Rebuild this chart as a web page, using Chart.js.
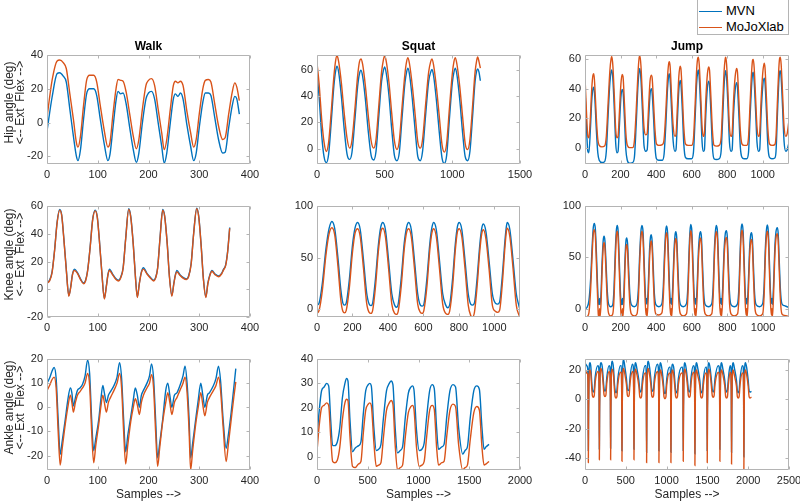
<!DOCTYPE html>
<html>
<head>
<meta charset="utf-8">
<script src="https://cdn.jsdelivr.net/npm/chart.js@4.4.1/dist/chart.umd.min.js"></script>
<style>
    body { margin: 0; background: #fff; }
    #figure { position: relative; width: 800px; height: 501px; overflow: hidden; }
    #figure canvas { position: absolute; }
    #legend { position: absolute; left: 697px; top: -1px; width: 92px; height: 36px; box-sizing: border-box;
        border: 1px solid #b4b4b4; background: #fff; font: 13px "Liberation Sans", Arial, sans-serif; color: #000; }
    #legend .item { position: absolute; left: 1px; height: 14px; line-height: 14px; white-space: nowrap; }
    #legend .swatch { display: inline-block; width: 23px; height: 1.5px; vertical-align: middle; margin-right: 4px; }
</style>
</head>
<body>
<div id="figure">
    <canvas id="walkHip"></canvas>
    <canvas id="squatHip"></canvas>
    <canvas id="jumpHip"></canvas>
    <canvas id="walkKnee"></canvas>
    <canvas id="squatKnee"></canvas>
    <canvas id="jumpKnee"></canvas>
    <canvas id="walkAnkle"></canvas>
    <canvas id="squatAnkle"></canvas>
    <canvas id="jumpAnkle"></canvas>
    <div id="legend">
        <div class="item" style="top:4px"><span class="swatch" style="background:#0072BD"></span>MVN</div>
        <div class="item" style="top:20px"><span class="swatch" style="background:#D95319"></span>MoJoXlab</div>
    </div>
</div>
<script>
// ---- data (sample index, angle in deg) ----
const seriesNames = ['MVN', 'MoJoXlab'];
const columnTitles = ['Walk', 'Squat', 'Jump'];
const rowLabels = ['Hip angle (deg)', 'Knee angle (deg)', 'Ankle angle (deg)'];
const dirLabel = '<-- Ext  Flex -->';
const xLabel = 'Samples -->';

const walkXTicks = [0, 100, 200, 300, 400];
const squatHipXTicks = [0, 500, 1000, 1500];
const squatKneeXTicks = [0, 200, 400, 600, 800, 1000];
const squatAnkleXTicks = [0, 500, 1000, 1500, 2000];
const jumpXTicks = [0, 200, 400, 600, 800, 1000];
const jumpAnkleXTicks = [0, 500, 1000, 1500, 2000, 2500];

const walkHipYTicks = [-20, 0, 20, 40];
const walkKneeYTicks = [-20, 0, 20, 40, 60];
const walkAnkleYTicks = [-20, -10, 0, 10, 20];
const squatHipYTicks = [0, 20, 40, 60];
const squatKneeYTicks = [0, 50, 100];
const squatAnkleYTicks = [0, 10, 20, 30, 40];
const jumpHipYTicks = [0, 20, 40, 60];
const jumpKneeYTicks = [0, 50, 100];
const jumpAnkleYTicks = [-40, -20, 0, 20];

// Walk - hip
const walkHipX = [0,10,20,25,32,38,45,52,58,61,66,72,78,84,92,98,105,113,120,124,
    130,136,140,145,150,156,163,170,176,181,188,195,200,206,212,219,226,231,236,243,
    249,253,258,263,268,276,283,289,294,300,307,312,318,323,330,338,346,351,358,365,370,374,379];
const walkHipMVN = [-5,15,29,29.5,27.5,24,8,-8,-20,-22.5,-16,2,17,20,20,16,2,-13,-22.5,-19,
    -3,13,18.5,17,17.5,11,-3,-16,-23.5,-18,0,14,17.5,18.5,14,0,-14,-24,-18,0,
    14,17,15.5,17.5,14,-2,-14,-22.5,-18,-3,12,17.5,17.5,16,4,-10,-18,-17.5,-3,10,15.5,14,5];
const walkHipMoJo = [3,25,36.5,37,35.5,32,17,2,-12,-14.5,-8,10,25,28,28,24,10,-5,-14.5,-12,
    5,20,25.5,25,24.5,18,5,-8,-15.5,-10,8,22,25,26,22,8,-6,-16,-10,8,
    22,24.5,23.5,24.5,22,6,-6,-14.5,-10,5,20,25,25.5,24,12,-2,-10,-9,5,18,23.5,21,13];

// Walk - knee
const walkKneeX = [0,5,10,15,20,25,29,33,38,43,47,50,54,60,66,72,76,80,85,90,
    95,99,103,108,113,117,120,123,130,136,141,145,150,155,161,165,170,174,178,182,
    186,190,197,204,210,214,218,223,228,232,237,241,246,250,253,256,262,268,275,279,
    284,289,295,299,304,308,313,317,321,325,331,338,344,348,352,356,360];
const walkKneeMVN = [5,6.5,12.5,28.5,48.5,57.5,53.5,37.5,14.5,-4.5,2.5,10.5,14.5,12,7.5,4.5,6.5,13.5,30.5,50.5,
    57,52.5,36.5,12.5,-6.5,2.5,10.5,14.5,10.5,7.5,6.5,8.5,15.5,36.5,58,52.5,32.5,10.5,-5.5,4.5,
    12.5,15.5,11.5,8.5,6.5,8.5,15.5,38.5,57.5,52.5,32.5,10.5,-4.5,4.5,10.5,13.5,10.5,8.5,7.5,9.5,
    18.5,40.5,58.5,52.5,30.5,8.5,-5.5,4.5,10.5,13.5,11,9.5,11.5,14.5,17.5,27.5,44.5];
const walkKneeMoJo = [4.5,6,12,28,48,57,53,37,14,-5,2,10,13.5,11.5,7,4,6,13,30,50,
    56.5,52,36,12,-7,2,10,13.5,10,7,6,8,15,36,57.5,52,32,10,-6,4,
    12,14.5,11,8,6,8,15,38,57,52,32,10,-5,4,10,12.5,10,8,7,9,
    18,40,58,52,30,8,-6,4,10,13,10.5,9,11,14,17,27,44];

// Walk - ankle
const walkAnkleX = [0,5,10,14,18,22,26,30,36,41,46,49,52,56,60,65,70,75,80,84,
    88,92,96,102,106,110,113,117,121,125,132,138,143,147,151,155,159,165,170,174,
    178,182,186,190,197,202,206,210,214,218,222,228,234,238,242,246,251,256,262,268,
    272,276,280,283,287,293,298,303,307,311,316,320,328,333,338,342,347,353,357,363,368,372];
const walkAnkleMVN = [10,12,15,16.5,12,-5,-19.5,-14,-5,3,8,6,0.5,4,7,8,9.5,13,19.5,14,
    -5,-18,-13,-5,3,9,6,2,5,6.5,9,12.5,18.5,12,-5,-18.5,-12,-4,3,8,
    5,0,5,7,10,13,18,12,-5,-21,-15,-5,7,10,5,0,5,6,9,13,
    17,10,-5,-21,-15,-5,3,10,5,0,5,6,9,12,17,11,-5,-17,-12,-2,8,16];
const walkAnkleMoJo = [7,9,11.5,12.5,8,-10,-24,-17,-7,0,5,2,-2,2,5,6.5,8,10,14,9,
    -10,-23,-16,-7,0,5,2,-2,2,4,7,10,14,8,-10,-23.5,-16,-6,0,3.5,
    1,-3,2,5,8,10,13.5,8,-10,-24.5,-17,-6,2,6,2,-3,2,4,7,10,
    12.5,6,-10,-26,-18,-7,0,6,1,-3.5,2,4,7,9,12.5,7,-8,-22.5,-16,-5,4,10.5];

// Squat - hip
const squatHipX = [0,15,35,52,69,86,105,125,138,148,160,180,200,222,241,258,280,300,314,325,
    337,357,378,400,419,436,457,477,490,500,512,532,552,572,591,608,628,650,662,672,
    684,705,726,745,763,780,803,825,840,850,862,883,904,924,941,958,978,1000,1012,1022,
    1034,1055,1076,1095,1113,1130,1150,1168,1180,1187,1197,1207];
const squatHipMVN = [57,40,10,-6,-10.5,-4,20,48,59,62.5,58,40,16,-4,-8,-3,22,47,57,59.5,
    55,38,14,-5,-8.5,-2,25,51,59,62,57,40,15,-5,-9,-3,23,50,58,61,
    56,37,13,-6,-9,-2,26,51,58,60,55,36,12,-7,-11,-5,22,50,58,61,
    56,37,12,-6,-9,-2,25,51,59,60.5,58,51.5];
const squatHipMoJo = [65,50,22,5,-2,5,28,55,67,70.5,66,50,28,8,0.5,6,30,55,66,68,
    64,48,26,6,0.5,7,33,58,67,70.5,66,50,27,6,-0.5,6,31,57,66,69,
    64,47,25,5,0.5,7,34,58,66,68,63,46,24,3,-2.5,4,30,57,66,69,
    64,47,24,4,-0.5,7,33,58,67,69.5,66,61];

// Squat - knee
const squatKneeX = [0,12,30,50,68,84,100,118,135,146,155,165,182,200,215,229,244,262,280,294,
    304,314,330,346,360,371,386,404,422,438,448,458,475,492,506,517,532,550,568,583,
    593,603,620,636,648,658,673,691,709,726,737,748,765,780,792,802,817,835,853,867,
    877,888,903,918,929,938,953,971,989,1006,1019,1030,1045,1060,1068,1073,1088,1106,1124,1138,1144];
const squatKneeMVN = [4,6,25,58,78,85,78,50,18,6,4,6,28,62,79,84,77,48,16,5,
    3.5,6,30,62,80,84,77,47,15,4,2,5,30,64,80,84,77,47,15,4,
    3,5,30,63,79,84,77,47,15,4,1.5,4,30,63,80,84,77,47,15,5,
    4,6,30,62,78,82.5,75,46,15,6,5,7,32,66,80,84,77,47,15,4,0];
const squatKneeMoJo = [-4,-1,18,52,73,79,72,42,8,-2,-3.5,-1,20,55,74,78,70,40,6,-3,
    -4,-1,22,56,75,78.5,70,39,5,-4,-5,-2,22,58,75,78,70,39,5,-3,
    -4,-1,22,57,74,78,70,39,5,-4,-5,-2,22,57,75,78,70,39,4,-6,
    -7.5,-3,22,56,73,77,68,38,4,-2,-3,-1,24,60,75,78.5,70,39,4,-5,-7];

// Squat - ankle
const squatAnkleX = [0,20,45,70,95,115,135,154,175,200,225,250,275,292,305,325,350,377,410,433,
    455,480,505,520,535,560,584,607,630,655,685,712,730,748,770,793,820,843,870,900,
    925,940,955,980,1007,1033,1056,1080,1110,1135,1155,1178,1197,1230,1252,1280,1310,1340,1365,1395,
    1436,1459,1482,1510,1545,1575,1600,1625,1646,1666,1695];
const squatAnkleMVN = [8,18,27,28.5,30,29,15,4.5,4.5,6,12,24,30,32,31,15,2,3.5,4.5,6,
    17,27,29.5,30,29,12,2.5,3,5,16,27,30,31,29.5,12,1.5,2.5,4,16,26,
    28.5,29,27.5,11,2.5,3,5.5,16,27,29.5,28,12,3,4,5,17,27,29.5,28.5,12,
    1,2.5,4,16,27,29,27.5,12,3,4,5];
const squatAnkleMoJo = [2,12,20,21,22,21,8,-2,-2.5,-1.5,4,15,22,23.5,23,8,-4,-4.5,-3,-2,
    9,19,21.5,22,21,6,-4,-3.5,-2.5,8,19,22,23,21.5,5,-5.5,-4.5,-3.5,8,18,
    20.5,21,19.5,4,-4,-3.5,-2,8,19,21,19.5,4,-3.5,-2.5,-2,9,19,21.5,20.5,5,
    -5.5,-4.5,-3.5,7,18,20.5,19,4,-3.5,-3,-2];

// Jump - hip
const jumpHipX = [0,8,16,22,30,38,45,50,56,64,72,80,95,110,120,130,140,147,151,157,
    165,173,180,186,194,202,209,214,222,230,238,250,268,278,288,298,305,309,315,323,
    332,342,350,358,366,373,378,386,394,402,415,435,445,455,463,470,474,479,487,496,
    506,512,520,528,535,540,548,556,565,580,600,610,620,628,634,638,643,651,659,666,
    672,680,689,696,701,709,717,726,740,755,766,775,783,789,792,797,805,813,822,828,
    836,845,853,858,866,874,883,895,910,920,929,937,943,947,952,960,968,977,983,991,
    1000,1008,1013,1021,1029,1038,1052,1068,1075,1083,1090,1095,1099,1104,1112,1120,1130,1138,1146];
const jumpHipMVN = [40,15,-2,-3,12,32,40,41,32,12,-3,-8,-9.5,-9,-2,22,44,51.5,52.5,46,
    26,3,-3,-2,16,34,39.5,38,20,-1,-8,-10,-9.5,-6,16,42,52,53.5,46,26,
    2,-2,-1,19,36,40,37,20,1,-7,-8,-8,-4,16,37,48,50,46,26,5,
    -2,-1,19,39,45.5,43,25,3,-6,-7,-7,-3,21,43,51,52.5,47,27,4,-2,
    -1,23,41,45,42,23,1,-7,-7.5,-7,-2,21,43,51,52,47,27,4,-2,-1,
    23,39,44,41,22,1,-6,-7,-7,-3,21,41,50,51,45,25,4,-2,-1,23,
    41,47,44,24,2,-6,-7,-6.5,-2,23,43,51,52,47,27,5,-2,-1,3];
const jumpHipMoJo = [48,25,8,7,20,40,49,50,40,20,6,2,1,1.5,8,30,52,60,61.5,55,
    35,12,7,8,25,43,49.5,48,30,10,2,0.5,0.5,5,25,50,61,62,55,35,
    14,9,10,28,45,49,47,30,12,3,2,2.5,6,25,45,56,58,55,35,15,
    8,9,28,48,55,53,35,14,3,2,2,6,30,52,60,61,56,36,14,8,
    10,33,50,54.5,52,33,12,2,1.5,2,7,30,52,60,61,56,36,14,8,10,
    32,48,53.5,51,32,12,3,2,2,7,30,50,59,59.5,54,34,14,8,10,32,
    50,57,54,34,13,3,2,2.5,8,32,52,60,61,56,36,15,8,10,17];

// Jump - knee
const jumpKneeX = [0,10,22,32,40,46,52,58,64,70,75,79,82,85,90,96,102,107,112,118,
    125,132,144,156,163,170,176,181,186,192,198,203,207,210,213,219,225,230,234,239,
    245,252,260,277,292,300,307,314,320,326,332,338,343,346,349,355,362,368,372,377,
    383,390,398,415,432,440,447,453,458,464,470,476,481,484,487,493,500,506,510,515,
    521,528,536,552,570,578,585,590,594,600,606,612,617,620,623,630,637,644,649,654,
    660,667,675,693,712,720,727,733,738,744,750,756,761,764,767,774,781,788,794,799,
    805,812,820,838,857,865,872,877,882,888,894,900,905,908,911,917,924,930,935,940,
    946,953,961,980,998,1006,1013,1019,1024,1030,1036,1042,1047,1050,1053,1059,1066,1073,1080,1085,
    1091,1098,1106,1120,1135,1145];
const jumpKneeMVN = [0,1,8,30,60,78,83,78,55,25,6,4,10,4,15,45,66,70.5,66,45,
    18,5,2,4,20,55,76,81,76,50,20,5,4,10,4,18,50,66,69,64,
    40,14,4,2,5,20,52,75,81,75,48,18,5,10,4,20,55,70,72,66,
    42,14,4,2,5,22,55,75,80.5,74,46,16,5,10,4,22,56,72,75,70,
    44,15,4,2,5,22,58,76,82,76,48,18,5,10,4,22,56,72,75,70,
    44,15,4,2,5,22,58,76,81,75,46,16,5,10,4,22,56,73,76,71,
    45,15,4,2,5,22,58,77,82.5,76,48,16,5,10,4,22,56,71,74,69,
    43,14,4,2,5,22,58,76,81.5,75,46,16,5,10,4,22,58,75,79,74,
    48,18,5,3,2,1.5];
const jumpKneeMoJo = [-8,-8,-4,20,52,72,77,71,45,15,-6,-8,0,-8,5,36,59,64.5,59,36,
    8,-4,-7,-5,10,46,70,75.5,69,40,10,-6,-8,0,-8,8,42,59,62.5,57,
    30,4,-5,-7,-5,10,44,69,75.5,68,38,8,-6,0,-8,10,46,63,66,60,
    32,4,-5,-6,-4,12,46,68,74,67,36,6,-6,0,-8,12,48,65,68.5,63,
    34,5,-5,-7,-5,12,50,70,76,69,38,8,-6,0,-8,12,48,65,69,63,
    34,5,-5,-7,-5,12,50,70,75,68,36,6,-6,0,-8,12,48,66,69.5,64,
    35,5,-5,-7,-5,12,50,71,76.5,69,38,6,-6,0,-8,12,48,64,67.5,62,
    33,4,-5,-7,-5,12,50,70,75.5,68,36,6,-6,0,-8,12,50,69,73,67,
    38,8,-5,-6.5,-7,-7.5];

// Jump - ankle
const jumpAnkleX = [0,10,20,
    33,38,41,44,49,61,72,80,91,102,113,124,158,
    168,173,176,179,184,196,212,223,234,245,256,267,296,
    306,311,314,317,322,334,350,358,369,380,391,402,435,
    445,450,453,456,461,473,489,508,519,530,541,552,582,
    592,597,600,603,608,620,636,660,671,682,693,704,737,
    747,752,755,758,763,775,791,807,818,829,840,851,888,
    898,903,906,909,914,926,942,958,969,980,991,1002,1035,
    1045,1050,1053,1056,1061,1073,1089,1100,1111,1122,1133,1144,1186,
    1196,1201,1204,1207,1212,1224,1240,1256,1267,1278,1289,1300,1329,
    1339,1344,1347,1350,1355,1367,1383,1407,1418,1429,1440,1451,1480,
    1490,1495,1498,1501,1506,1518,1534,1549,1560,1571,1582,1593,1635,
    1645,1650,1653,1656,1661,1673,1689,1713,1724,1735,1746,1757,1778,
    1788,1793,1796,1799,1804,1816,1832,1856,1867,1878,1889,1900,1929,
    1939,1944,1947,1950,1955,1967,1983,2000,2011,2022,2040];
const jumpAnkleMVN = [22,24,23,
    21,5,-35,-5,18,25,22,14,6.5,5,6.5,15,23,
    22,5,-34,-4,19,25,22,14,7,5.5,7,15,23,
    22,4,-33,-5,18,26,21,13,6,4.5,6,14,23,
    23,5,-35,-5,19,27,22,14,7,6,7,15,24,
    22,5,-34,-5,18,25,21,13,6.5,5,6.5,14,23,
    23,4,-36,-6,19,26,22,14,7,5.5,7,15,24,
    22,5,-35,-5,18,25,21,13,5.5,4,5.5,14,22,
    22,5,-36,-5,18,24,21,13,6,4.5,6,14,22,
    22,5,-35,-5,18,25,21,13,6.5,5,6.5,15,23,
    22,4,-37,-6,18,25,21,13,6,4.5,6,14,22,
    22,5,-35,-5,18,25,21,13,6.5,5,6.5,14,23,
    22,5,-34,-5,18,25,21,13,6.5,5,6.5,14,23,
    22,4,-36,-6,18,25,21,13,6,4.5,6,14,23,
    22,4,-39,-6,18,25,21,13,6,5,5.5];
const jumpAnkleMoJo = [18,19,18,
    17,0,-43,-10,14,20,17,10,2.5,1.5,2.5,11,19,
    18,0,-41,-9,15,21,17,10,3,2,3,11,19,
    17,-1,-41,-10,14,20.5,16,9,2,1,2,10,18.5,
    18,0,-42,-9,15,21,17,10,3,2,3,11,19,
    17,0,-41,-10,14,20.5,17,9,2,1,2,10,18,
    18,-1,-43,-11,15,21,17,10,2.5,1.5,2.5,11,19,
    17,0,-43,-10,14,20,16,9,1.5,0.5,1.5,10,18,
    17,0,-43,-10,14,20,16,9,2,1,2,10,18,
    18,0,-42,-10,14,20.5,17,9,2.5,1.5,2.5,11,18.5,
    17,-1,-45,-11,14,20,16,9,2,1,2,10,18,
    17,0,-43,-10,14,20.5,17,9,2.5,1.5,2.5,10,18.5,
    17,0,-42,-10,14,20,17,9,2,1,2,10,18.5,
    17,-1,-44,-11,14,20,16,9,2,1,2,10,18,
    17,-2,-48,-12,14,20,16,9,2,1,1.5];

// ---- styling ----
const BLUE = '#0072BD';
const ORANGE = '#D95319';
const AXIS_GRAY = '#b4b4b4';
const TEXT_GRAY = '#262626';
const FONT = '"Liberation Sans", Arial, Helvetica, sans-serif';

Chart.defaults.font.family = FONT;

// box [x, w] / [y, h] of each canvas, plot edges of its axes
const colBox = [[0, 262], [270, 262], [535, 265]];
const colPlot = [[47, 250], [317, 520], [585, 789]];
const rowBox = [[35, 155], [190, 155], [345, 156]];
const rowPlot = [[55, 164], [206, 317], [359, 470]];

const panels = [
    { id: 'walkHip', r: 0, c: 0, xs: walkHipX, mvn: walkHipMVN, mojo: walkHipMoJo, xTicks: walkXTicks, yTicks: walkHipYTicks, xRange: [0, 400], yRange: [-24.5, 40] },
    { id: 'squatHip', r: 0, c: 1, xs: squatHipX, mvn: squatHipMVN, mojo: squatHipMoJo, xTicks: squatHipXTicks, yTicks: squatHipYTicks, xRange: [0, 1500], yRange: [-11.5, 71] },
    { id: 'jumpHip', r: 0, c: 2, xs: jumpHipX, mvn: jumpHipMVN, mojo: jumpHipMoJo, xTicks: jumpXTicks, yTicks: jumpHipYTicks, xRange: [0, 1148], yRange: [-10.5, 62.5] },
    { id: 'walkKnee', r: 1, c: 0, xs: walkKneeX, mvn: walkKneeMVN, mojo: walkKneeMoJo, xTicks: walkXTicks, yTicks: walkKneeYTicks, xRange: [0, 400], yRange: [-20, 60] },
    { id: 'squatKnee', r: 1, c: 1, xs: squatKneeX, mvn: squatKneeMVN, mojo: squatKneeMoJo, xTicks: squatKneeXTicks, yTicks: squatKneeYTicks, xRange: [0, 1145], yRange: [-7.5, 100] },
    { id: 'jumpKnee', r: 1, c: 2, xs: jumpKneeX, mvn: jumpKneeMVN, mojo: jumpKneeMoJo, xTicks: jumpXTicks, yTicks: jumpKneeYTicks, xRange: [0, 1146], yRange: [-8, 100] },
    { id: 'walkAnkle', r: 2, c: 0, xs: walkAnkleX, mvn: walkAnkleMVN, mojo: walkAnkleMoJo, xTicks: walkXTicks, yTicks: walkAnkleYTicks, xRange: [0, 400], yRange: [-26, 20] },
    { id: 'squatAnkle', r: 2, c: 1, xs: squatAnkleX, mvn: squatAnkleMVN, mojo: squatAnkleMoJo, xTicks: squatAnkleXTicks, yTicks: squatAnkleYTicks, xRange: [0, 2000], yRange: [-5.5, 40] },
    { id: 'jumpAnkle', r: 2, c: 2, xs: jumpAnkleX, mvn: jumpAnkleMVN, mojo: jumpAnkleMoJo, xTicks: jumpAnkleXTicks, yTicks: jumpAnkleYTicks, xRange: [0, 2500], yRange: [-48, 27.5] }
];

// MATLAB style box with inward ticks, panel title and two-line y label
const matlabAxes = {
    id: 'matlabAxes',
    afterDatasetsDraw(chart, args, opts) {
        const { ctx, chartArea: a, scales } = chart;
        const L = Math.round(a.left) + 0.5, R = Math.round(a.right) - 0.5;
        const T = Math.round(a.top) + 0.5, B = Math.round(a.bottom) - 0.5;
        ctx.save();
        ctx.strokeStyle = AXIS_GRAY;
        ctx.lineWidth = 1;
        ctx.beginPath();
        ctx.rect(L, T, R - L, B - T);
        scales.x.ticks.forEach(t => {
            const p = Math.round(scales.x.getPixelForValue(t.value)) + 0.5;
            ctx.moveTo(p, B); ctx.lineTo(p, B - 3);
            ctx.moveTo(p, T); ctx.lineTo(p, T + 3);
        });
        scales.y.ticks.forEach(t => {
            const p = Math.round(scales.y.getPixelForValue(t.value)) + 0.5;
            ctx.moveTo(L, p); ctx.lineTo(L + 3, p);
            ctx.moveTo(R, p); ctx.lineTo(R - 3, p);
        });
        ctx.stroke();

        if (opts.title) {
            ctx.fillStyle = '#000';
            ctx.font = 'bold 12px ' + FONT;
            ctx.textAlign = 'center';
            ctx.textBaseline = 'middle';
            ctx.fillText(opts.title, (a.left + a.right) / 2, a.top - 8.3);
        }
        if (opts.ylabel) {
            ctx.fillStyle = TEXT_GRAY;
            ctx.font = '12px ' + FONT;
            ctx.textAlign = 'center';
            ctx.textBaseline = 'middle';
            const cy = (a.top + a.bottom) / 2 - 7;
            [9.5, 21].forEach((lx, i) => {
                ctx.save();
                ctx.translate(lx, cy);
                ctx.rotate(-Math.PI / 2);
                ctx.fillText(opts.ylabel[i], 0, 0);
                ctx.restore();
            });
        }
        ctx.restore();
    }
};

function toPoints(xs, ys) {
    return xs.map((x, i) => ({ x: x, y: ys[i] }));
}

function makeChart(p) {
    const canvas = document.getElementById(p.id);
    const box = [colBox[p.c][0], rowBox[p.r][0], colBox[p.c][1], rowBox[p.r][1]];
    const plot = [colPlot[p.c][0], rowPlot[p.r][0], colPlot[p.c][1], rowPlot[p.r][1]];
    canvas.width = box[2];
    canvas.height = box[3];
    canvas.style.left = box[0] + 'px';
    canvas.style.top = box[1] + 'px';

    const padL = plot[0] - box[0];
    const padT = plot[1] - box[1];
    const padR = box[0] + box[2] - plot[2];
    const padB = box[1] + box[3] - plot[3];
    const tickFont = { size: 11 };

    return new Chart(canvas, {
        type: 'line',
        data: {
            datasets: [{
                label: seriesNames[0],
                data: toPoints(p.xs, p.mvn),
                borderColor: BLUE,
                order: 1
            }, {
                label: seriesNames[1],
                data: toPoints(p.xs, p.mojo),
                borderColor: ORANGE,
                order: 0
            }]
        },
        options: {
            responsive: false,
            animation: false,
            events: [],
            devicePixelRatio: 1,
            layout: { padding: { left: 0, top: padT, right: padR, bottom: 0 } },
            elements: {
                point: { radius: 0 },
                line: { borderWidth: 1.4, fill: false, cubicInterpolationMode: 'monotone' }
            },
            plugins: {
                legend: { display: false },
                tooltip: { enabled: false },
                matlabAxes: {
                    title: p.r === 0 ? columnTitles[p.c] : null,
                    ylabel: p.c === 0 ? [rowLabels[p.r], dirLabel] : null
                }
            },
            scales: {
                x: {
                    type: 'linear',
                    min: p.xRange[0],
                    max: p.xRange[1],
                    afterBuildTicks: function (axis) {
                        axis.ticks = p.xTicks.map(v => ({ value: v }));
                    },
                    afterFit: function (axis) {
                        axis.height = padB;
                        axis.paddingLeft = 0;
                        axis.paddingRight = 0;
                    },
                    grid: { display: false, drawTicks: false },
                    border: { display: false },
                    ticks: {
                        autoSkip: false,
                        maxRotation: 0,
                        padding: 4,
                        color: TEXT_GRAY,
                        font: tickFont,
                        callback: function (value) { return String(value); }
                    },
                    title: {
                        display: p.r === 2,
                        text: xLabel,
                        color: TEXT_GRAY,
                        font: { size: 12, lineHeight: 1 },
                        padding: 0
                    }
                },
                y: {
                    type: 'linear',
                    min: p.yRange[0],
                    max: p.yRange[1],
                    afterBuildTicks: function (axis) {
                        axis.ticks = p.yTicks.map(v => ({ value: v }));
                    },
                    afterFit: function (axis) {
                        axis.width = padL;
                        axis.paddingTop = 0;
                        axis.paddingBottom = 0;
                    },
                    grid: { display: false, drawTicks: false },
                    border: { display: false },
                    ticks: {
                        padding: 4,
                        color: TEXT_GRAY,
                        font: tickFont,
                        callback: function (value) { return String(value); }
                    }
                }
            }
        },
        plugins: [matlabAxes]
    });
}

panels.forEach(makeChart);
</script>
</body>
</html>
